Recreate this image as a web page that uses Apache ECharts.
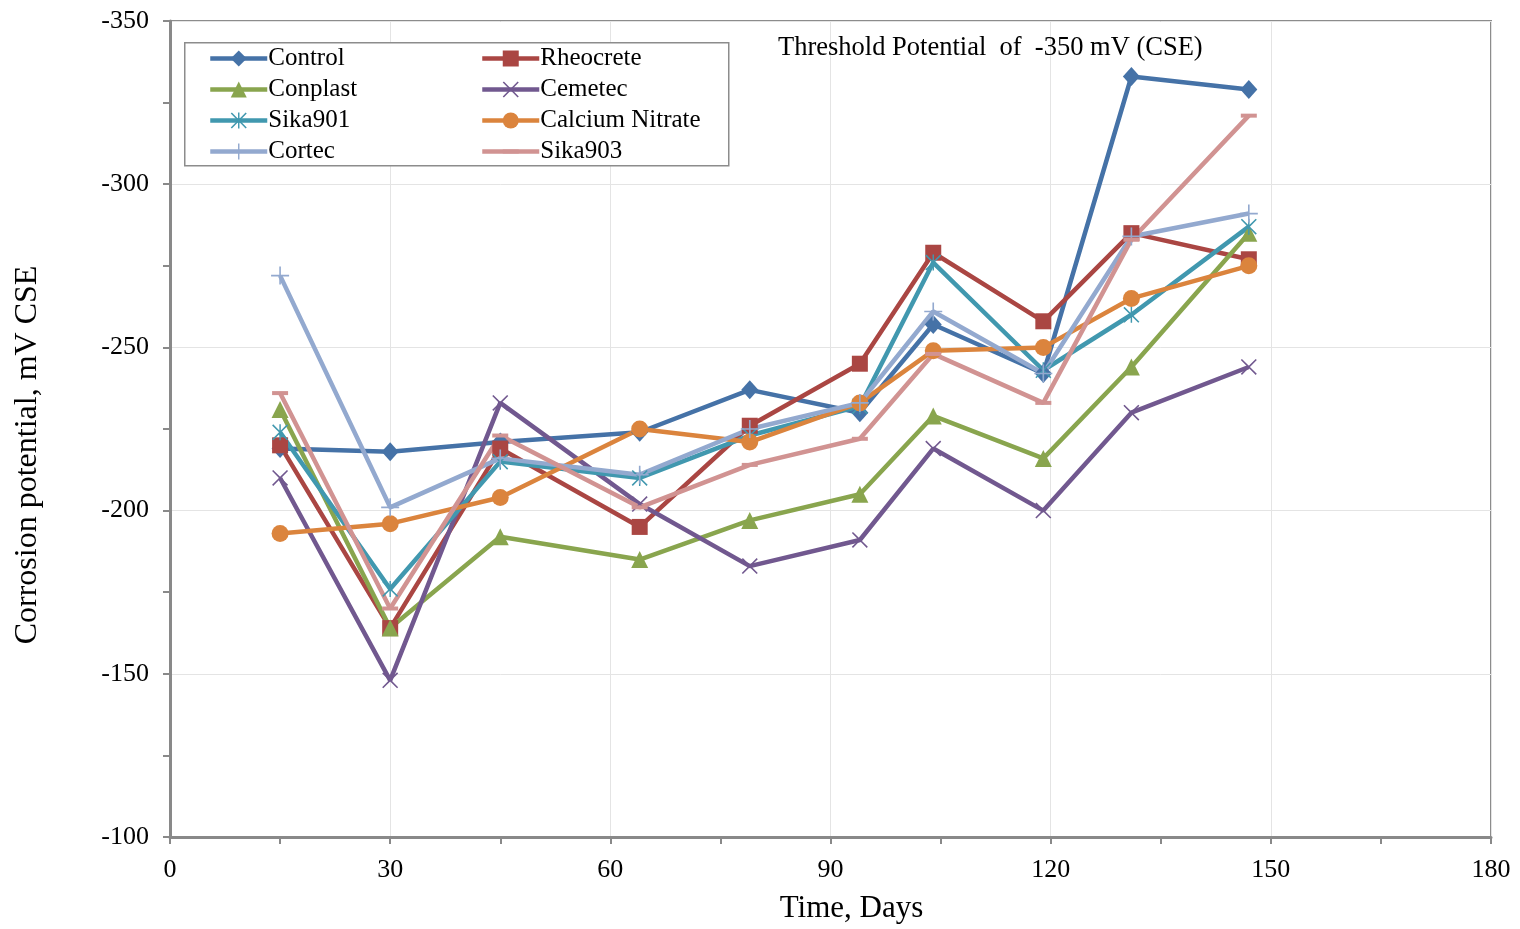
<!DOCTYPE html>
<html>
<head>
<meta charset="utf-8">
<script src="https://cdn.jsdelivr.net/npm/echarts@6/dist/echarts.min.js"></script>
<style>html,body{margin:0;padding:0;background:#fff;}#c{width:1520px;height:929px;}</style>
</head>
<body>
<div id="c"></div>
<script>
const days = [15, 30, 45, 64, 79, 94, 104, 119, 131, 147];
const control   = [-219, -218, -221, -224, -237, -230, -257, -242, -333, -329];
const rheocrete = [-220, -164, -219, -195, -226, -245, -279, -258, -285, -277];
const conplast  = [-231, -164, -192, -185, -197, -205, -229, -216, -244, -285];
const cemetec   = [-210, -148, -233, -202, -183, -191, -219, -200, -230, -244];
const sika901   = [-224, -176, -215, -210, -223, -232, -276, -243, -260, -287];
const calcium   = [-193, -196, -204, -225, -221, -233, -249, -250, -265, -275];
const cortec    = [-272, -201, -216, -211, -225, -233, -261, -242, -284, -291];
const sika903   = [-236, -170, -223, -201, -214, -222, -248, -233, -283, -321];
const xTicks = [0, 30, 60, 90, 120, 150, 180];
const yTicks = [-350, -300, -250, -200, -150, -100];

const FONT = 'Liberation Serif';
const X_PATH = 'path://M0,1.4L1.4,0L10,8.6L18.6,0L20,1.4L11.4,10L20,18.6L18.6,20L10,11.4L1.4,20L0,18.6L8.6,10Z';
const STAR_PATH = 'path://M0,1.4L1.4,0L10,8.6L18.6,0L20,1.4L11.4,10L20,18.6L18.6,20L10,11.4L1.4,20L0,18.6L8.6,10Z M9.1,0L10.9,0L10.9,20L9.1,20Z';
const PLUS_PATH = 'path://M9.1,0L10.9,0L10.9,9.1L20,9.1L20,10.9L10.9,10.9L10.9,20L9.1,20L9.1,10.9L0,10.9L0,9.1L9.1,9.1Z';
const DASH_PATH = 'path://M10,-7.5L10,-7.5M0,0L20,0L20,5L0,5ZM10,12.5L10,12.5';

function pairs(vals){ return days.map((d,i)=>[d, vals[i]]); }

const seriesDefs = [
  {name:'Control', data:control, color:'#4572A7', symbol:'diamond', size:[17,19]},
  {name:'Rheocrete', data:rheocrete, color:'#AA4643', symbol:'rect', size:16},
  {name:'Conplast', data:conplast, color:'#89A54E', symbol:'triangle', size:17},
  {name:'Cemetec', data:cemetec, color:'#71588F', symbol:X_PATH, size:16},
  {name:'Sika901', data:sika901, color:'#4198AF', symbol:STAR_PATH, size:16},
  {name:'Calcium Nitrate', data:calcium, color:'#DB843D', symbol:'circle', size:17},
  {name:'Cortec', data:cortec, color:'#93A9CF', symbol:PLUS_PATH, size:18},
  {name:'Sika903', data:sika903, color:'#D19392', symbol:DASH_PATH, size:16}
];

const series = seriesDefs.map(s=>({
  name:s.name, type:'line', data:pairs(s.data),
  symbol:s.symbol, symbolSize:s.size, showAllSymbol:true,
  lineStyle:{color:s.color, width:4.5},
  itemStyle:{color:s.color, borderWidth:0},
  emphasis:{disabled:true},
  animation:false, z:2
}));

const axisGray = '#898989';
const legendCommon = {
  orient:'vertical', itemWidth:57, itemHeight:20, itemGap:6, padding:0,
  lineStyle:{width:4.5},
  textStyle:{fontFamily:FONT, fontSize:25, color:'#000', lineHeight:25, padding:[0,0,0,-4]},
  z:10, selectedMode:false
};

const chart = echarts.init(document.getElementById('c'));
chart.setOption({
  animation:false,
  backgroundColor:'#fff',
  grid:{left:170, right:29, top:21, bottom:92, show:true, borderColor:'#8c8c8c', borderWidth:2, backgroundColor:'transparent'},
  xAxis:{
    type:'value', min:xTicks[0], max:xTicks[xTicks.length-1], interval:30,
    name:'Time, Days', nameLocation:'middle', nameGap:56,
    nameTextStyle:{fontFamily:FONT, fontSize:31, color:'#000', padding:[0,0,0,42]},
    axisLine:{show:true, lineStyle:{color:axisGray, width:3}},
    axisTick:{show:true, inside:false, length:7, lineStyle:{color:axisGray, width:2}},
    minorTick:{show:true, splitNumber:2, length:7, lineStyle:{color:axisGray, width:2}},
    splitLine:{show:true, lineStyle:{color:'#e4e4e4', width:1}},
    axisLabel:{fontFamily:FONT, fontSize:26, color:'#000', margin:20}
  },
  yAxis:{
    type:'value', min:yTicks[0], max:yTicks[yTicks.length-1], interval:50, inverse:true,
    name:'Corrosion potential, mV CSE', nameLocation:'middle', nameGap:126, nameRotate:90,
    nameTextStyle:{fontFamily:FONT, fontSize:32, color:'#000', padding:[0,52,0,0]},
    axisLine:{show:true, lineStyle:{color:axisGray, width:3}},
    axisTick:{show:true, inside:false, length:7, lineStyle:{color:axisGray, width:2}},
    minorTick:{show:true, splitNumber:2, length:7, lineStyle:{color:axisGray, width:2}},
    splitLine:{show:true, lineStyle:{color:'#e4e4e4', width:1}},
    axisLabel:{fontFamily:FONT, fontSize:26, color:'#000', margin:21}
  },
  legend:[
    Object.assign({}, legendCommon, {left:208, top:46, data:['Control','Conplast','Sika901','Cortec']}),
    Object.assign({}, legendCommon, {left:480, top:46, data:['Rheocrete','Cemetec','Calcium Nitrate','Sika903']})
  ],
  graphic:[
    {type:'rect', left:184, top:42, shape:{width:544, height:123}, style:{fill:'#fff', stroke:'#8c8c8c', lineWidth:1.5}, z:5},
    {type:'text', left:778, top:35, style:{text:'Threshold Potential  of  -350 mV (CSE)', fontFamily:FONT, fontSize:26.5, fill:'#000'}, z:6}
  ],
  series:series
});
</script>
</body>
</html>
